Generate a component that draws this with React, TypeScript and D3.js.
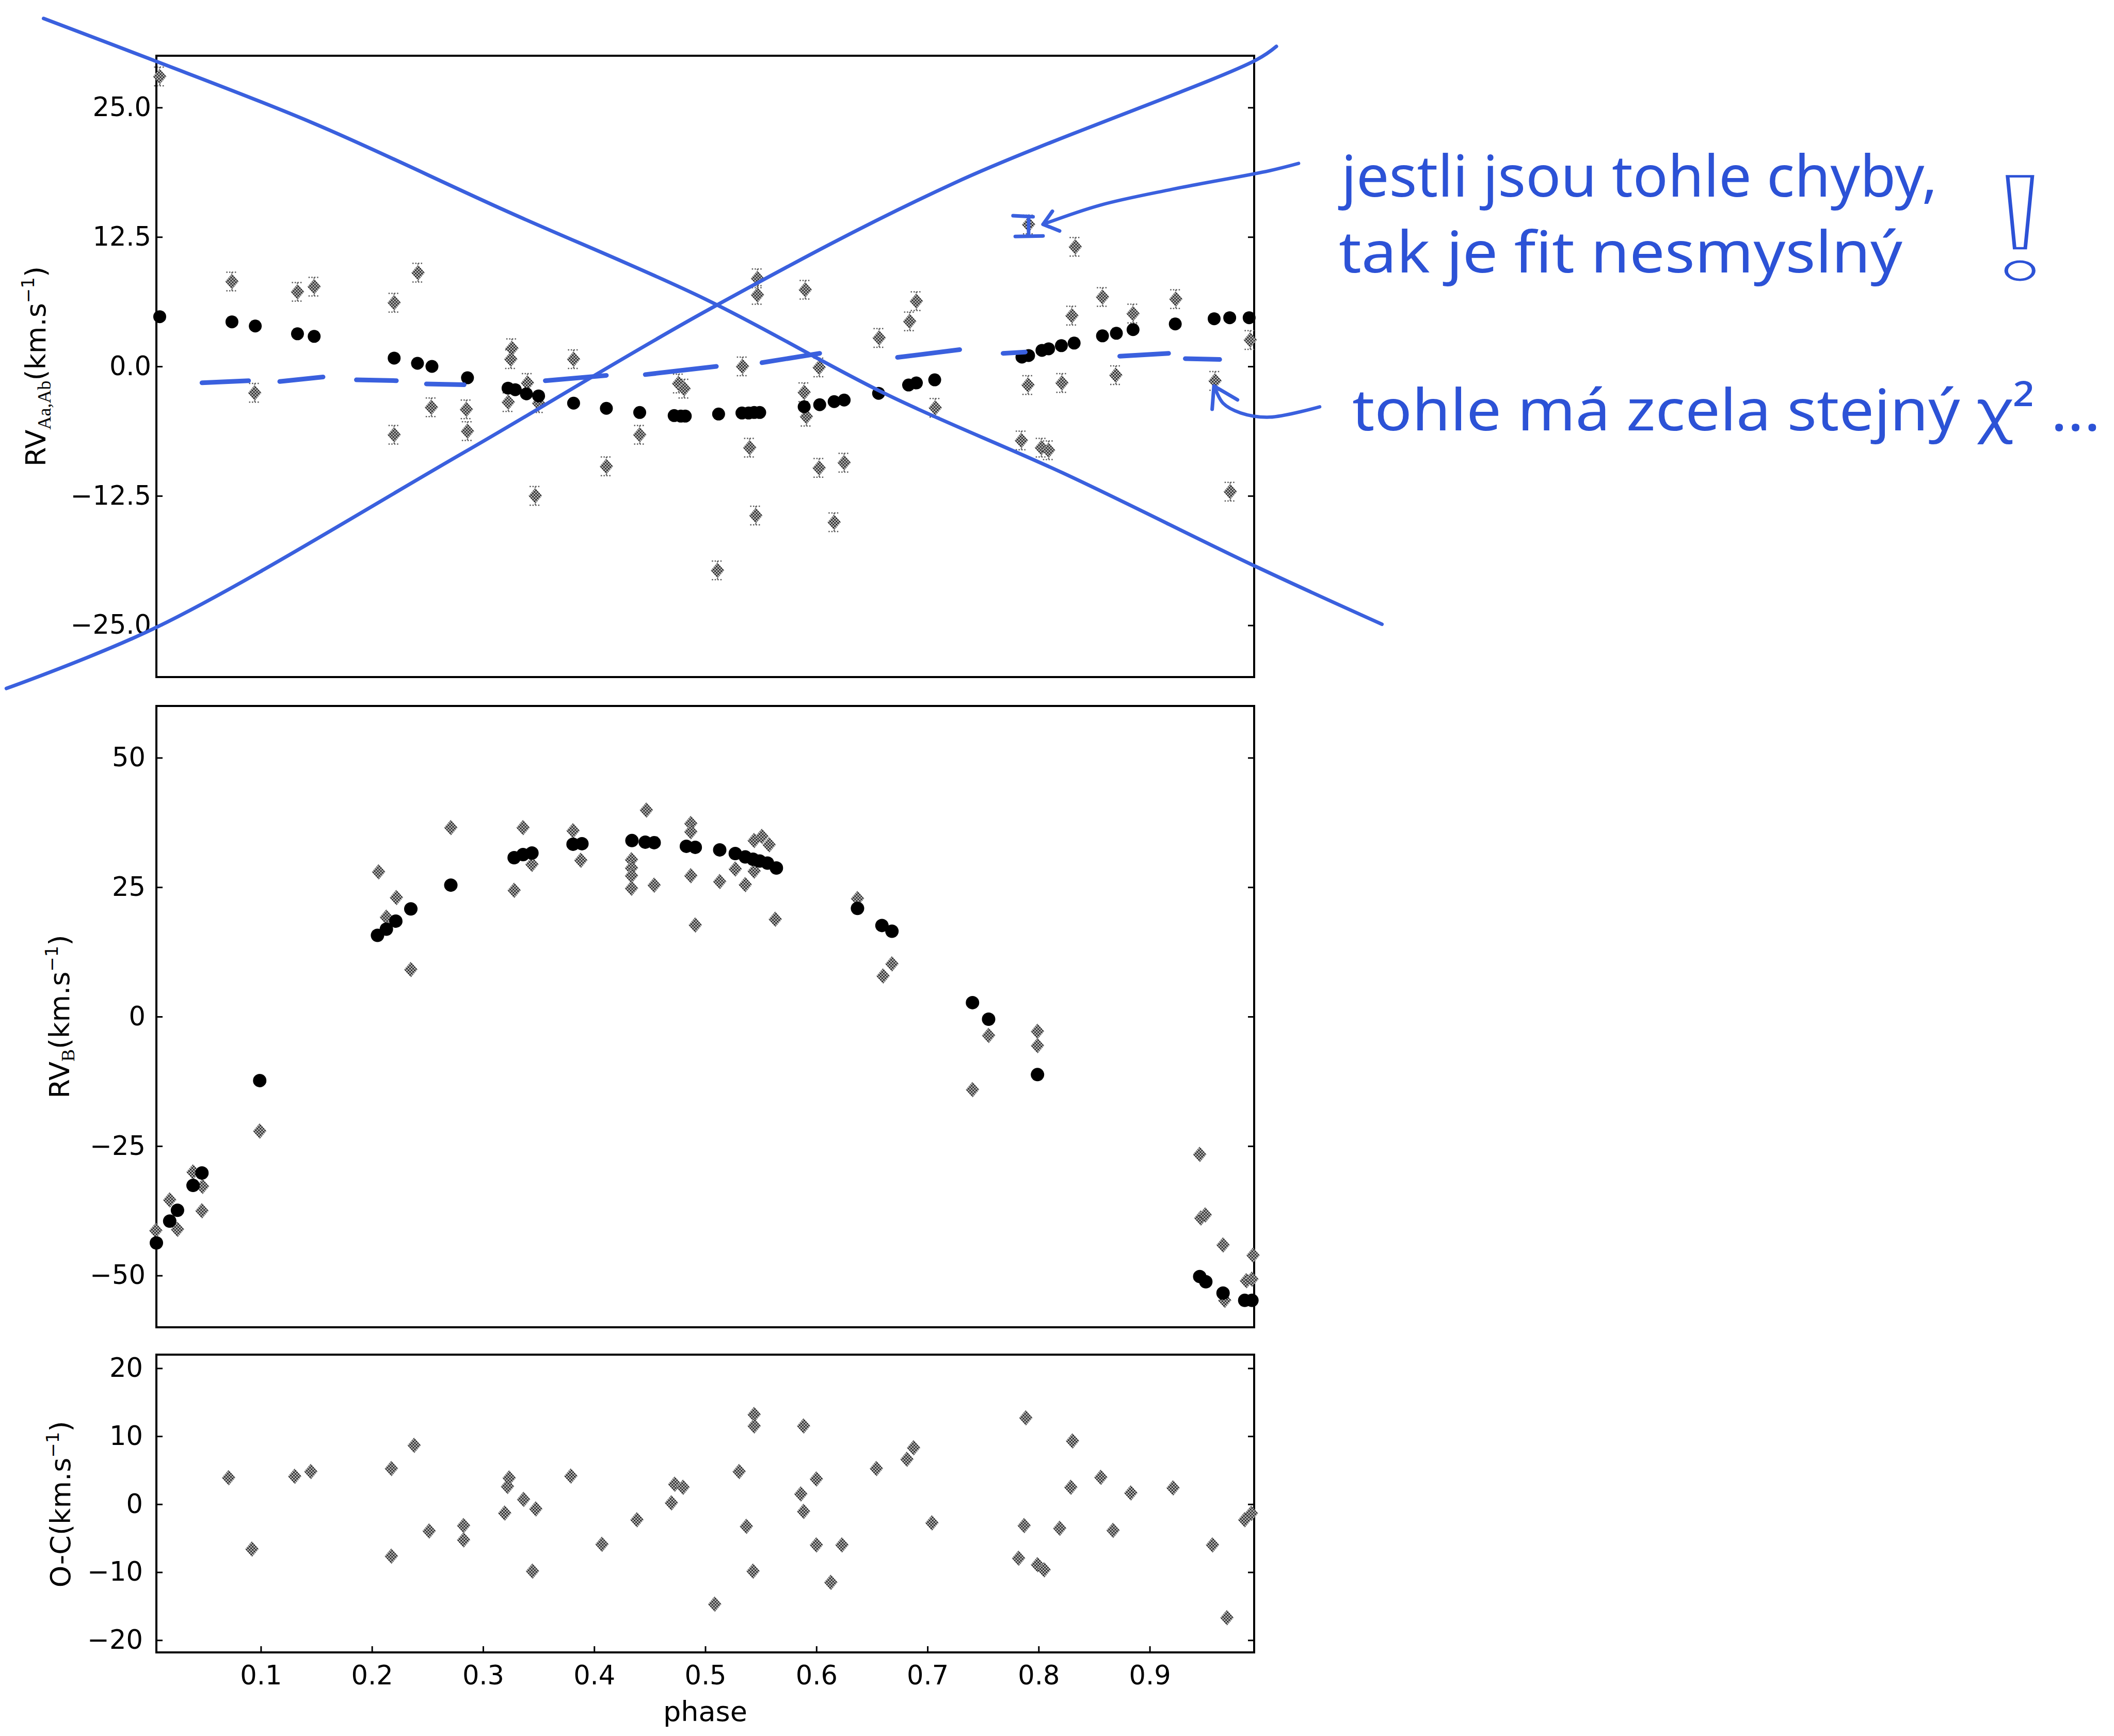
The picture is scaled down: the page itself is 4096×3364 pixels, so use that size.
import React, { useRef, useEffect } from 'react';
import * as d3 from 'd3';

// ---- values ----
const phaseTicks = [0.1, 0.2, 0.3, 0.4, 0.5, 0.6, 0.7, 0.8, 0.9];
const aaTicks = [25, 12.5, 0, -12.5, -25];
const bTicks = [50, 25, 0, -25, -50];
const ocTicks = [20, 10, 0, -10, -20];

// top panel: RV Aa,Ab  [phase, km/s]
const aaModel = [
  [0.009, 4.8], [0.074, 4.3], [0.095, 3.9], [0.133, 3.15], [0.148, 2.9], [0.22, 0.8],
  [0.241, 0.3], [0.254, 0.0], [0.286, -1.1], [0.3225, -2.1], [0.329, -2.25], [0.339, -2.65],
  [0.35, -2.85], [0.3815, -3.55], [0.411, -4.05], [0.441, -4.45], [0.472, -4.75], [0.478, -4.8],
  [0.482, -4.8], [0.512, -4.6], [0.533, -4.5], [0.539, -4.5], [0.544, -4.45], [0.549, -4.45],
  [0.589, -3.9], [0.603, -3.7], [0.616, -3.4], [0.625, -3.25], [0.656, -2.6], [0.683, -1.8],
  [0.69, -1.6], [0.7065, -1.3], [0.785, 0.9], [0.791, 1.05], [0.803, 1.55], [0.809, 1.7],
  [0.8205, 2.0], [0.832, 2.25], [0.8575, 2.95], [0.87, 3.2], [0.885, 3.55], [0.923, 4.1],
  [0.958, 4.6], [0.972, 4.7], [0.9895, 4.7],
];
const aaObs = [
  [0.009, 28.0], [0.074, 8.2], [0.0945, -2.55], [0.133, 7.2], [0.148, 7.7], [0.22, 6.15],
  [0.22, -6.6], [0.2415, 9.05], [0.2535, -3.95], [0.285, -4.15], [0.286, -6.25], [0.326, 1.75],
  [0.325, 0.7], [0.3227, -3.45], [0.34, -1.6], [0.35, -3.55], [0.347, -12.5], [0.3815, 0.7],
  [0.411, -9.65], [0.441, -6.6], [0.476, -1.65], [0.481, -2.15], [0.511, -19.7], [0.5335, 0.0],
  [0.54, -7.85], [0.5455, -14.4], [0.547, 8.5], [0.547, 6.9], [0.59, 7.4], [0.589, -2.5],
  [0.591, -4.85], [0.6025, -0.1], [0.6025, -9.8], [0.625, -9.3], [0.616, -15.05], [0.6565, 2.75],
  [0.684, 4.35], [0.69, 6.3], [0.707, -4.0], [0.7845, -7.15], [0.7905, -1.8], [0.8025, -7.85],
  [0.809, -8.1], [0.791, 13.7], [0.833, 11.55], [0.821, -1.6], [0.83, 4.9], [0.8575, 6.7],
  [0.8695, -0.85], [0.885, 5.1], [0.9235, 6.5], [0.9588, -1.4], [0.9725, -12.1], [0.9905, 2.55],
];
const aaErr = 0.9;

// middle panel: RV B
const bModel = [
  [0.006, -43.7], [0.018, -39.5], [0.025, -37.4], [0.039, -32.6], [0.047, -30.2], [0.099, -12.35],
  [0.205, 15.7], [0.213, 16.9], [0.2215, 18.45], [0.235, 20.8], [0.271, 25.4], [0.328, 30.7],
  [0.336, 31.3], [0.344, 31.6], [0.381, 33.3], [0.389, 33.4], [0.434, 34.0], [0.446, 33.7],
  [0.454, 33.6], [0.483, 32.9], [0.491, 32.7], [0.513, 32.2], [0.527, 31.5], [0.536, 30.85],
  [0.543, 30.4], [0.549, 30.05], [0.556, 29.65], [0.564, 28.7], [0.637, 20.9], [0.659, 17.6],
  [0.668, 16.5], [0.7405, 2.7], [0.755, -0.5], [0.799, -11.2], [0.945, -50.2], [0.9505, -51.2],
  [0.966, -53.4], [0.9855, -54.8], [0.992, -54.8],
];
const bObs = [
  [0.0055, -41.3], [0.018, -35.4], [0.025, -41.1], [0.039, -30.0], [0.0475, -32.8], [0.047, -37.5],
  [0.099, -22.1], [0.206, 27.95], [0.213, 19.2], [0.222, 23.0], [0.235, 9.1], [0.271, 36.5],
  [0.328, 24.4], [0.336, 36.5], [0.344, 29.4], [0.381, 35.9], [0.388, 30.2], [0.4336, 30.3],
  [0.4336, 28.7], [0.4336, 27.2], [0.4336, 24.8], [0.447, 39.9], [0.454, 25.4], [0.487, 37.3],
  [0.487, 35.7], [0.487, 27.2], [0.491, 17.7], [0.513, 26.1], [0.527, 28.5], [0.536, 25.5],
  [0.544, 28.1], [0.544, 34.0], [0.551, 34.8], [0.5575, 33.2], [0.563, 18.8], [0.637, 22.8],
  [0.66, 7.85], [0.668, 10.2], [0.7405, -14.1], [0.755, -3.65], [0.799, -2.85], [0.799, -5.6],
  [0.945, -26.6], [0.946, -38.9], [0.95, -38.3], [0.966, -44.1], [0.9675, -54.8], [0.987, -51.0],
  [0.992, -50.7], [0.993, -46.1],
];

// bottom panel: O-C
const ocObs = [
  [0.071, 3.9], [0.092, -6.6], [0.1305, 4.1], [0.145, 4.8], [0.2175, 5.25], [0.2175, -7.65],
  [0.238, 8.65], [0.2515, -3.95], [0.2825, -3.15], [0.2825, -5.25], [0.3195, -1.3], [0.322, 2.6],
  [0.3235, 3.85], [0.3365, 0.7], [0.3475, -0.7], [0.3445, -9.85], [0.379, 4.15], [0.407, -5.9],
  [0.4385, -2.3], [0.4695, 0.2], [0.4725, 2.95], [0.48, 2.5], [0.5085, -14.7], [0.5305, 4.8],
  [0.537, -3.25], [0.544, 13.2], [0.544, 11.5], [0.543, -9.85], [0.5885, 11.5], [0.586, 1.5],
  [0.5885, -1.05], [0.6, 3.7], [0.6, -6.0], [0.613, -11.5], [0.623, -6.0], [0.654, 5.25],
  [0.6815, 6.6], [0.6875, 8.3], [0.704, -2.75], [0.7885, 12.7], [0.787, -3.15], [0.782, -7.95],
  [0.799, -8.9], [0.805, -9.65], [0.819, -3.55], [0.8305, 9.3], [0.829, 2.5], [0.856, 3.95],
  [0.867, -3.85], [0.883, 1.65], [0.921, 2.4], [0.9565, -6.0], [0.9695, -16.7], [0.9855, -2.3],
  [0.9915, -1.35],
];

// blue pen marks, in the top panel's units (phase, km/s)
const penRising = [
  [-0.129, -31.1], [0.006, -25.2], [0.283, -8.3], [0.505, 5.6],
  [0.724, 17.7], [0.996, 29.6], [1.014, 30.9],
];
const penFalling = [
  [-0.0955, 33.6], [0.0, 29.7], [0.147, 23.5], [0.321, 15.0], [0.5, 6.5],
  [0.665, -2.8], [0.822, -10.3], [0.995, -19.3], [1.109, -24.9],
];
const penDashes = [
  [0.047, -1.58, 0.089, -1.38], [0.117, -1.46, 0.156, -1.02], [0.186, -1.3, 0.222, -1.38],
  [0.249, -1.69, 0.283, -1.77], [0.356, -1.38, 0.411, -0.87], [0.446, -0.79, 0.51, 0.0],
  [0.551, 0.36, 0.603, 1.26], [0.673, 0.87, 0.729, 1.62], [0.768, 1.26, 0.788, 1.38],
  [0.873, 0.99, 0.917, 1.26], [0.932, 0.75, 0.963, 0.67],
];
const penArrowTop = [[1.034, 19.6], [1.008, 18.9], [0.92, 17.1], [0.855, 15.56], [0.804, 13.72]];
const penArrowTopHead = [[0.8124, 14.98], [0.804, 13.72], [0.8189, 13.08]];
const penErrMark = [
  [[0.777, 14.55], [0.795, 14.45]],
  [[0.779, 12.55], [0.804, 12.6]],
  [[0.791, 14.5], [0.791, 12.58]],
];
const penArrowLow = [[1.053, -3.9], [1.008, -4.9], [0.982, -4.5], [0.966, -3.55], [0.958, -1.9]];
const penArrowLowHead = [[0.9562, -4.14], [0.9578, -1.89], [0.979, -3.23]];

const noteLines = ['jestli jsou tohle chyby,', 'tak je fit nesmyslný', 'tohle má zcela stejný χ² ...'];

const W = 4096;
const H = 3364;
const L = 303;
const R = 2430;
const BLUE = '#3a60de';
const INK = '#2c52d6';

const App = () => {
  const svgRef = useRef(null);

  useEffect(() => {
    document.body.style.margin = '0';
    const svg = d3.select(svgRef.current);
    svg.selectAll('*').remove();

    const x = d3.scaleLinear().domain([0.006, 0.994]).range([L, R]);
    const yAa = d3.scaleLinear().domain([-30, 30]).range([1312, 108]);
    const yB = d3.scaleLinear().domain([-60, 60]).range([2572, 1368]);
    const yOc = d3.scaleLinear().domain([-21.8, 22]).range([3202, 2625]);

    svg.append('rect').attr('width', W).attr('height', H).attr('fill', '#fff');

    // halftone fill for the grey diamonds
    const pat = svg.append('defs').append('pattern')
      .attr('id', 'checker').attr('width', 6).attr('height', 6)
      .attr('patternUnits', 'userSpaceOnUse');
    pat.append('rect').attr('width', 6).attr('height', 6).attr('fill', '#bcbcbc');
    pat.append('rect').attr('width', 3).attr('height', 3).attr('fill', '#2a2a2a');
    pat.append('rect').attr('x', 3).attr('y', 3).attr('width', 3).attr('height', 3).attr('fill', '#2a2a2a');

    const diamond = 'M0,-15L13,0L0,15L-13,0Z';

    const drawPanel = (y, ticks, fmt, pad) => {
      const [bottom, top] = y.range();
      svg.append('rect')
        .attr('x', L).attr('y', top).attr('width', R - L).attr('height', bottom - top)
        .attr('fill', 'none').attr('stroke', '#000').attr('stroke-width', 4);

      const gl = svg.append('g').attr('transform', `translate(${L},0)`)
        .call(d3.axisLeft(y).tickValues(ticks).tickFormat(d3.format(fmt))
          .tickSizeInner(-12).tickSizeOuter(0).tickPadding(pad));
      gl.select('.domain').remove();
      gl.attr('font-size', 51).attr('font-family', 'DejaVu Sans');
      gl.selectAll('line').attr('stroke-width', 3);
      gl.selectAll('text').attr('fill', '#000');

      const gr = svg.append('g').attr('transform', `translate(${R},0)`)
        .call(d3.axisRight(y).tickValues(ticks).tickFormat(() => '')
          .tickSizeInner(-12).tickSizeOuter(0));
      gr.select('.domain').remove();
      gr.selectAll('line').attr('stroke-width', 3);
    };

    drawPanel(yAa, aaTicks, '.1f', 10);
    drawPanel(yB, bTicks, 'd', 21);
    drawPanel(yOc, ocTicks, 'd', 26);

    const gx = svg.append('g').attr('transform', `translate(0,${yOc.range()[0]})`)
      .call(d3.axisBottom(x).tickValues(phaseTicks).tickFormat(d3.format('.1f'))
        .tickSizeInner(-12).tickSizeOuter(0).tickPadding(26));
    gx.select('.domain').remove();
    gx.attr('font-size', 51).attr('font-family', 'DejaVu Sans');
    gx.selectAll('line').attr('stroke-width', 3);
    gx.selectAll('text').attr('fill', '#000');

    // dotted error bars on the top panel observations
    const eb = svg.append('g').attr('stroke', '#5a5a5a').attr('stroke-width', 2.5)
      .attr('stroke-dasharray', '2.5 3').attr('fill', 'none');
    eb.selectAll('path')
      .data(aaObs)
      .join('path')
      .attr('d', d => {
        const cx = x(d[0]);
        const y0 = yAa(d[1] + aaErr);
        const y1 = yAa(d[1] - aaErr);
        return `M${cx},${y0}V${y1}M${cx - 11},${y0}H${cx + 11}M${cx - 11},${y1}H${cx + 11}`;
      });

    const drawObs = (data, y) => {
      svg.append('g').selectAll('path')
        .data(data)
        .join('path')
        .attr('d', diamond)
        .attr('transform', d => `translate(${x(d[0])},${y(d[1])})`)
        .attr('fill', 'url(#checker)');
    };
    const drawModel = (data, y, r) => {
      svg.append('g').selectAll('circle')
        .data(data)
        .join('circle')
        .attr('cx', d => x(d[0]))
        .attr('cy', d => y(d[1]))
        .attr('r', r)
        .attr('fill', '#000');
    };

    drawObs(aaObs, yAa);
    drawModel(aaModel, yAa, 12.5);
    drawObs(bObs, yB);
    drawModel(bModel, yB, 13);
    drawObs(ocObs, yOc);

    // axis labels
    const yLabel = (tx, ty, main, sub, tail) => {
      const t = svg.append('text')
        .attr('transform', `translate(${tx},${ty}) rotate(-90)`)
        .attr('text-anchor', 'middle')
        .attr('font-family', 'DejaVu Sans')
        .attr('font-size', 54)
        .attr('fill', '#000');
      t.append('tspan').text(main);
      if (sub) {
        t.append('tspan').attr('font-family', 'Liberation Serif').attr('font-size', 36).attr('dy', 10).text(sub);
        t.append('tspan').attr('dy', -10).text(tail);
      } else {
        t.append('tspan').text(tail);
      }
      t.append('tspan').attr('font-size', 34).attr('dy', -22).text('−1');
      t.append('tspan').attr('dy', 22).text(')');
    };
    yLabel(88, yAa(0), 'RV', 'Aa,Ab', '(km.s');
    yLabel(134, yB(0), 'RV', 'B', '(km.s');
    yLabel(136, yOc(0), 'O-C', null, '(km.s');

    svg.append('text')
      .attr('x', (L + R) / 2).attr('y', 3335)
      .attr('text-anchor', 'middle')
      .attr('font-family', 'DejaVu Sans').attr('font-size', 54)
      .text('phase');

    // blue pen over the plot
    const pen = svg.append('g').attr('fill', 'none').attr('stroke', BLUE)
      .attr('stroke-linecap', 'round').attr('stroke-linejoin', 'round');
    const smooth = d3.line().x(d => x(d[0])).y(d => yAa(d[1])).curve(d3.curveCatmullRom.alpha(0.5));
    const straight = d3.line().x(d => x(d[0])).y(d => yAa(d[1]));

    pen.append('path').attr('d', smooth(penRising)).attr('stroke-width', 7);
    pen.append('path').attr('d', smooth(penFalling)).attr('stroke-width', 7);
    pen.selectAll('.dash')
      .data(penDashes)
      .join('path')
      .attr('class', 'dash')
      .attr('d', d => straight([[d[0], d[1]], [d[2], d[3]]]))
      .attr('stroke-width', 9);
    pen.append('path').attr('d', smooth(penArrowTop)).attr('stroke-width', 6.5);
    pen.append('path').attr('d', straight(penArrowTopHead)).attr('stroke-width', 7);
    penErrMark.forEach(seg => pen.append('path').attr('d', straight(seg)).attr('stroke-width', 7));
    pen.append('path').attr('d', smooth(penArrowLow)).attr('stroke-width', 6.5);
    pen.append('path').attr('d', straight(penArrowLowHead)).attr('stroke-width', 7);

    // handwritten notes
    const note = (s, tx, ty, len) => {
      svg.append('text')
        .attr('x', tx).attr('y', ty)
        .attr('font-family', 'Noto Sans').attr('font-size', 112)
        .attr('fill', INK)
        .attr('textLength', len).attr('lengthAdjust', 'spacingAndGlyphs')
        .text(s);
    };
    note(noteLines[0], 2599, 381, 1155);
    note(noteLines[1], 2594, 528, 1092);
    note(noteLines[2], 2620, 834, 1450);
    svg.append('text')
      .attr('transform', 'translate(3914,538) scale(1.5,1)')
      .attr('text-anchor', 'middle')
      .attr('font-family', 'Liberation Serif').attr('font-size', 300)
      .attr('fill', 'none').attr('stroke', INK).attr('stroke-width', 6)
      .attr('vector-effect', 'non-scaling-stroke')
      .text('!');
  }, []);

  return (
    <svg
      ref={svgRef}
      width={W}
      height={H}
      style={{ display: 'block', position: 'absolute', left: 0, top: 0 }}
    />
  );
};

export default App;
